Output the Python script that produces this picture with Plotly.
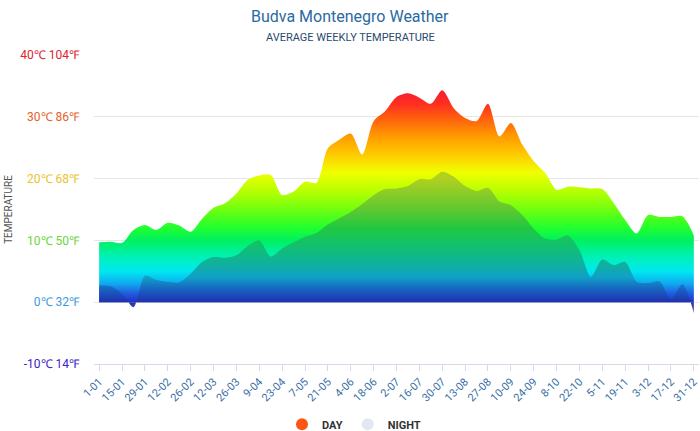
import plotly.graph_objects as go

weeks = ["1-01","8-01","15-01","22-01","29-01","5-02","12-02","19-02","26-02","5-03","12-03",
         "19-03","26-03","2-04","9-04","16-04","23-04","30-04","7-05","14-05","21-05","28-05",
         "4-06","11-06","18-06","25-06","2-07","9-07","16-07","23-07","30-07","6-08","13-08",
         "20-08","27-08","3-09","10-09","17-09","24-09","1-10","8-10","15-10","22-10","29-10",
         "5-11","12-11","19-11","26-11","3-12","10-12","17-12","24-12","31-12"]

day = [9.7, 9.8, 9.6, 11.7, 12.5, 11.7, 12.85, 12.4, 11.4, 13.5, 15.3, 16.0, 17.6, 19.8, 20.5,
       20.6, 17.35, 17.9, 19.5, 19.3, 24.9, 26.3, 27.3, 23.9, 29.3, 30.9, 33.2, 33.8, 33.1, 32.1,
       34.3, 31.4, 29.8, 29.3, 32.1, 26.8, 29.0, 25.5, 22.8, 20.9, 18.2, 18.7, 18.6, 18.4, 18.3,
       16.0, 13.3, 11.1, 14.1, 13.8, 13.8, 13.9, 10.8]

night = [2.7, 2.6, 1.4, -0.8, 4.3, 3.6, 3.3, 3.2, 4.6, 6.5, 7.3, 7.2, 7.6, 9.1, 10.0, 7.4, 8.7,
         9.7, 10.6, 11.2, 12.6, 13.6, 14.6, 15.9, 17.3, 18.3, 18.4, 18.8, 19.9, 19.9, 21.1, 20.3,
         18.8, 18.0, 18.5, 16.3, 15.7, 14.1, 11.9, 10.3, 10.1, 10.8, 8.4, 4.1, 6.9, 6.0, 6.5,
         3.3, 3.1, 3.4, 0.5, 2.9, -1.8]

tick_labels = weeks[::2]
y_ticks = [-10, 0, 10, 20, 30, 40]
y_tick_text = ["-10℃ 14℉", "0℃ 32℉", "10℃ 50℉", "20℃ 68℉", "30℃ 86℉", "40℃ 104℉"]
y_tick_colors = ["#3a22c8", "#3a9ae0", "#6ad63a", "#e8c42a", "#e8602a", "#e0202e"]

G0, G1 = -2.0, 36.0
def scale(stops):
    return [[(t - G0) / (G1 - G0), c] for t, c in stops]

day_stops = [(-2, "#6a5aa8"), (0, "#2030c0"), (1.5, "#2060e0"), (3, "#10a8f0"), (5, "#00e8f0"),
             (7, "#00f0c0"), (10, "#00f060"), (12, "#20ff30"), (15, "#70ff10"), (18, "#b8ff00"),
             (21, "#f0ff00"), (24, "#ffc800"), (27, "#ff9800"), (30, "#ff5a10"), (32, "#ff3020"),
             (36, "#e8103c")]
night_stops = [(-2, "#7a68a8"), (0, "#2030b0"), (2, "#1860c0"), (4, "#10a0c8"), (6, "#10b0a0"),
               (9, "#10c070"), (12, "#20c840"), (15, "#60c830"), (20, "#b0d020"), (36, "#d0d020")]

xi = list(range(len(weeks)))

fig = go.Figure()
fig.add_trace(go.Scatter(x=xi, y=day, mode="lines", line=dict(width=0, shape="spline", smoothing=0.8),
                         fill="tozeroy",
                         fillgradient=dict(type="vertical", colorscale=scale(day_stops), start=G0, stop=G1),
                         showlegend=False, hoverinfo="skip"))
fig.add_trace(go.Scatter(x=xi, y=night, mode="lines", line=dict(width=0, shape="spline", smoothing=0.8),
                         fill="tozeroy",
                         fillgradient=dict(type="vertical", colorscale=scale(night_stops), start=G0, stop=G1),
                         showlegend=False, hoverinfo="skip"))
fig.add_trace(go.Scatter(x=[None], y=[None], mode="markers", name="<b>DAY</b>",
                         marker=dict(size=12, color="#ff5512")))
fig.add_trace(go.Scatter(x=[None], y=[None], mode="markers", name="<b>NIGHT</b>",
                         marker=dict(size=12, color="#e3e7f1")))

cx = (350 - 94) / 605
fig.update_layout(
    width=700, height=431,
    margin=dict(l=94, r=1, t=55, b=67, autoexpand=False),
    paper_bgcolor="white", plot_bgcolor="white",
    font=dict(family="Roboto, sans-serif"),
    annotations=[
        dict(text="Budva Montenegro Weather", xref="paper", yref="paper", x=cx, y=1 + (55 - 16) / 309,
             xanchor="center", yanchor="middle", showarrow=False, font=dict(size=16, color="#2a6aa0")),
        dict(text="AVERAGE WEEKLY TEMPERATURE", xref="paper", yref="paper", x=cx, y=1 + (55 - 37) / 309,
             xanchor="center", yanchor="middle", showarrow=False, font=dict(size=11, color="#2c4a6e")),
    ],
    xaxis=dict(range=[-0.45, 52.45], tickmode="array", tickvals=xi[::2], ticktext=tick_labels,
               tickangle=-45, tickfont=dict(size=11, color="#3a6fa6"), automargin=False,
               showgrid=False, zeroline=False, showline=True, linecolor="#d4dbe6", linewidth=1,
               ticks="outside", ticklen=6, tickcolor="#d4dbe6"),
    yaxis=dict(range=[-10, 40], tickmode="array", tickvals=y_ticks, automargin=False,
               ticktext=[f"<span style='color:{c}'>{t}</span>" for t, c in zip(y_tick_text, y_tick_colors)],
               tickfont=dict(size=12), ticklabelstandoff=14,
               showgrid=True, gridcolor="#e6e6e6", zeroline=False,
               title=dict(text="TEMPERATURE", font=dict(size=10, color="#555"), standoff=5)),
    legend=dict(orientation="h", xref="container", x=0.5 + 4 / 700, xanchor="center", y=-0.195, yanchor="middle",
                font=dict(size=11, color="#333"), itemsizing="constant", itemwidth=30),
)

fig.write_html("out.html")
